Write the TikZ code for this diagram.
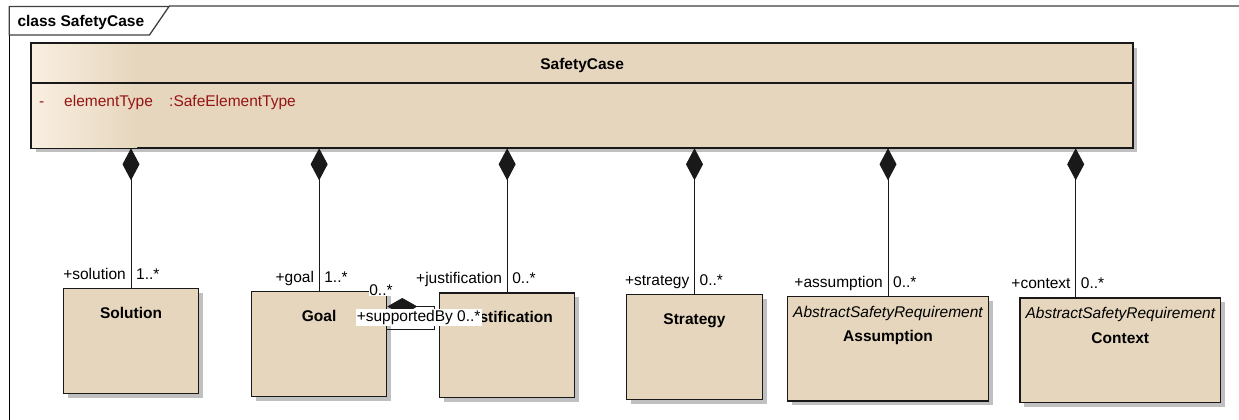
\documentclass[tikz,border=0pt]{standalone}
\usepackage{fontspec}
\setmainfont{Liberation Sans}
\usetikzlibrary{arrows.meta,calc,shadows}
\definecolor{boxtan}{RGB}{230,214,189}
\definecolor{boxcream}{RGB}{249,239,225}
\definecolor{attrred}{RGB}{150,20,20}
\definecolor{shadowgray}{RGB}{192,192,192}
\definecolor{framegray}{RGB}{130,130,130}
\begin{document}
\begin{tikzpicture}[x=1pt,y=-1pt,
  every node/.style={font=\fontsize{15.5}{18}\selectfont},
  cls/.style={draw=black!90, line width=1.3pt, fill=boxtan, rectangle, inner sep=0pt, anchor=north west,
    drop shadow={shadow xshift=4.5pt, shadow yshift=-4.5pt, fill=shadowgray, opacity=1}},
  txt/.style={inner sep=0pt, anchor=base},
  cname/.style={txt, font=\fontsize{15.5}{18}\selectfont\bfseries},
  stereo/.style={txt, font=\fontsize{15.5}{18}\selectfont\itshape},
  rolel/.style={inner sep=0pt, anchor=base east},
  roler/.style={inner sep=0pt, anchor=base west},
  attrtxt/.style={inner sep=0pt, anchor=base west, text=attrred},
  comp/.style={draw=black!90, line width=1pt, -{Diamond[length=32pt,width=17pt]}},
  selfcomp/.style={draw=black!90, line width=1pt, {Diamond[length=30pt,width=17pt]}-},
  wlabel/.style={fill=white, inner sep=1.2pt}
]
\useasboundingbox (0,0) rectangle (1239,420);

% frame
\draw[framegray, line width=2pt] (169,6.5) -- (1239,6.5);
\draw[black, line width=1.3pt] (9.3,6.5) -- (9.3,420);
\draw[fill=white, draw=black!75, line width=1.3pt] (9.3,6.5) -- (169,6.5) -- (149.5,35) -- (9.3,35) -- cycle;
\node[txt, anchor=base west, font=\fontsize{15.5}{18}\selectfont\bfseries] (ftitle) at (17.3,26.7) {class SafetyCase};

% SafetyCase class
\node[cls, minimum width=1101pt, minimum height=104pt] (sc) at (31,43) {};
\shade[left color=boxcream, right color=boxtan] ([xshift=0.65pt,yshift=-0.65pt]sc.north west) rectangle ($(sc.south west)+(106,-0.65)$);
\coordinate (div) at (0,83);
\draw[black!90, line width=1.3pt] (sc.north west) rectangle (sc.south east);
\draw[black!90, line width=1.3pt] (sc.west |- div) -- (sc.east |- div);
\node[cname] (sctitle) at ($(sc.north)+(0,27)$) {SafetyCase};
\node[attrtxt] (attrvis) at (39,106) {-};
\node[attrtxt] (attrname) at (64,106) {elementType};
\node[attrtxt] (attrtype) at (169,106) {:SafeElementType};

% child classes
\node[cls, minimum width=135.3pt, minimum height=105pt] (sol) at (62.7,287.7) {};
\node[cname] (solname) at ($(sol.north)+(0,30.5)$) {Solution};

\node[cls, minimum width=135pt, minimum height=104.7pt] (goal) at (251,291) {};
\node[cname] (goalname) at ($(goal.north)+(0,30.5)$) {Goal};

\node[cls, minimum width=135pt, minimum height=104.4pt] (just) at (439,292.3) {};
\node[cname] (justname) at ($(just.north)+(0,30.5)$) {Justification};

\node[cls, minimum width=135.7pt, minimum height=105pt] (strat) at (626,294) {};
\node[cname] (stratname) at ($(strat.north)+(0,30.5)$) {Strategy};

\node[cls, minimum width=200.7pt, minimum height=104.6pt] (assum) at (787,295.7) {};
\node[stereo] (assumst) at ($(assum.north)+(0,21.5)$) {AbstractSafetyRequirement};
\node[cname] (assumname) at ($(assum.north)+(0,45.5)$) {Assumption};

\node[cls, minimum width=200.7pt, minimum height=104.7pt] (ctx) at (1019.3,297.3) {};
\node[stereo] (ctxst) at ($(ctx.north)+(0,21)$) {AbstractSafetyRequirement};
\node[cname] (ctxname) at ($(ctx.north)+(0,46)$) {Context};

% compositions
\coordinate (ctxc) at (1075.7,0);
\draw[comp] (sol.north) -- (sol.north |- sc.south);
\draw[comp] (goal.north) -- (goal.north |- sc.south);
\draw[comp] (just.north) -- (just.north |- sc.south);
\draw[comp] (strat.north) -- (strat.north |- sc.south);
\draw[comp] (assum.north) -- (assum.north |- sc.south);
\draw[comp] (ctx.north -| ctxc) -- (sc.south -| ctxc);

% role labels
\node[rolel] (l1a) at ($(sol.north)+(-5,-8.5)$) {+solution};
\node[roler] (l1b) at ($(sol.north)+(5,-8.5)$) {1..*};
\node[rolel] (l2a) at ($(goal.north)+(-5,-8.5)$) {+goal};
\node[roler] (l2b) at ($(goal.north)+(5,-8.5)$) {1..*};
\node[rolel] (l3a) at ($(just.north)+(-5,-8.5)$) {+justification};
\node[roler] (l3b) at ($(just.north)+(5,-8.5)$) {0..*};
\node[rolel] (l4a) at ($(strat.north)+(-5,-8.5)$) {+strategy};
\node[roler] (l4b) at ($(strat.north)+(5,-8.5)$) {0..*};
\node[rolel] (l5a) at ($(assum.north)+(-5,-8.5)$) {+assumption};
\node[roler] (l5b) at ($(assum.north)+(5,-8.5)$) {0..*};
\node[rolel] (l6a) at ($(ctx.north -| ctxc)+(-5,-8.5)$) {+context};
\node[roler] (l6b) at ($(ctx.north -| ctxc)+(5,-8.5)$) {0..*};

% self composition on Goal
\draw[selfcomp] ($(goal.north east)+(0,15.5)$) -- ++(47,0) |- ($(goal.north east)+(0,38)$);
\node[wlabel, inner sep=0.5pt] (sa1) at ($(goal.north east)+(-6.3,-0.5)$) {0..*};
\node[wlabel] (sa2) at ($(goal.north east)+(31.3,26.3)$) {+supportedBy 0..*};
\end{tikzpicture}
\end{document}
